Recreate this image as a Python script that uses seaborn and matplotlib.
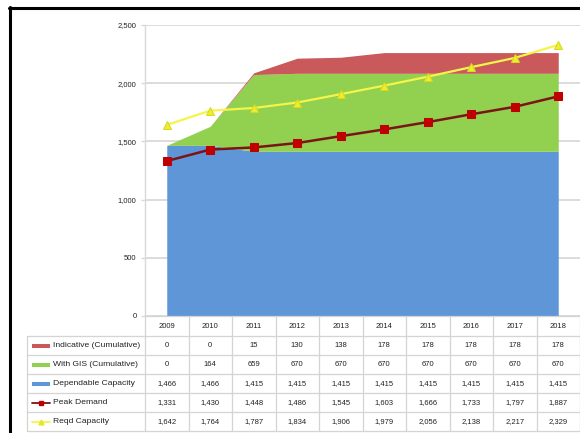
import numpy as np
import pandas as pd
import seaborn as sns
import matplotlib
matplotlib.use("Agg")
import matplotlib.pyplot as plt
from matplotlib.lines import Line2D
from matplotlib.patches import Rectangle

# ---- data ----
years = ["2009", "2010", "2011", "2012", "2013", "2014", "2015", "2016", "2017", "2018"]
indicative = [0, 0, 15, 130, 138, 178, 178, 178, 178, 178]
with_gis = [0, 164, 659, 670, 670, 670, 670, 670, 670, 670]
dependable = [1466, 1466, 1415, 1415, 1415, 1415, 1415, 1415, 1415, 1415]
peak_demand = [1331, 1430, 1448, 1486, 1545, 1603, 1666, 1733, 1797, 1887]
reqd_capacity = [1642, 1764, 1787, 1834, 1906, 1979, 2056, 2138, 2217, 2329]
yticks = [0, 500, 1000, 1500, 2000, 2500]
series_names = ["Indicative (Cumulative)", "With GIS (Cumulative)", "Dependable Capacity",
                "Peak Demand", "Reqd Capacity"]

sns.set_style("white")
plt.rcParams['font.family'] = ['Liberation Sans', 'DejaVu Sans']

C_BLUE = "#5f96d7"
C_GREEN = "#92d050"
C_RED = "#c9595b"
C_PEAK_LINE = "#7a1515"
C_PEAK_MK = "#c00000"
C_REQ = "#f4f44a"
C_GRID = "#d9d9d9"
C_TXT = "#222222"

W, H = 580, 433
fig = plt.figure(figsize=(W / 100, H / 100), dpi=100)

AX_L, AX_R, AX_T, AX_B = 145, 580, 25, 316
ax = fig.add_axes([AX_L / W, 1 - AX_B / H, (AX_R - AX_L) / W, (AX_B - AX_T) / H])

x = np.arange(len(years))
df = pd.DataFrame({"x": x, "peak": peak_demand, "req": reqd_capacity})

ax.stackplot(x, dependable, with_gis, indicative, colors=[C_BLUE, C_GREEN, C_RED],
             linewidth=0, zorder=2)
sns.lineplot(data=df, x="x", y="req", ax=ax, color=C_REQ, linewidth=1.6, marker="^",
             markersize=5.5, markerfacecolor="#eeee30", markeredgecolor="#d8d820", zorder=4)
sns.lineplot(data=df, x="x", y="peak", ax=ax, color=C_PEAK_LINE, linewidth=1.8, marker="s",
             markersize=5.5, markerfacecolor=C_PEAK_MK, markeredgecolor=C_PEAK_MK, zorder=5)

ax.set_xlim(-0.5, 9.5)
ax.set_ylim(0, 2500)
ax.set_yticks(yticks)
ax.set_yticklabels([f"{v:,}" for v in yticks], fontsize=5.5, color=C_TXT)
ax.set_xticks([])
ax.set_xlabel("")
ax.set_ylabel("")
ax.grid(axis="y", color=C_GRID, linewidth=1.3, zorder=0)
ax.set_axisbelow(True)
for s in ["top", "right", "bottom"]:
    ax.spines[s].set_visible(False)
ax.spines["left"].set_color(C_GRID)
ax.spines["left"].set_linewidth(1.0)
ax.tick_params(axis="y", length=3, width=1, color=C_GRID, pad=3, left=True)

# ---- data table ----
T_T, T_B = 316, 431
tax = fig.add_axes([AX_L / W, 1 - T_B / H, (AX_R - AX_L) / W, (T_B - T_T) / H])
tax.set_xlim(-0.5, 9.5)
tax.set_ylim(T_B, T_T)
tax.axis("off")

def px2x(px):
    return (px - AX_L) / ((AX_R - AX_L) / 10.0) - 0.5

rows = [316, 336, 355, 374, 393, 412, 431]
left_x = px2x(27)
right_x = 9.5
lc = "#d4d4d4"
lw = 0.9
tax.plot([-0.5, right_x], [rows[0], rows[0]], color=lc, lw=lw, clip_on=False)
for r in rows[1:]:
    tax.plot([left_x, right_x], [r, r], color=lc, lw=lw, clip_on=False)
for k in range(11):
    xv = -0.5 + k
    tax.plot([xv, xv], [rows[0], rows[-1]], color=lc, lw=lw, clip_on=False)
tax.plot([left_x, left_x], [rows[1], rows[-1]], color=lc, lw=lw, clip_on=False)

hc = (rows[0] + rows[1]) / 2
for i, yr in enumerate(years):
    tax.text(i, hc, yr, ha="center", va="center", fontsize=5.5, color=C_TXT)

table_vals = [indicative, with_gis, dependable, peak_demand, reqd_capacity]
key_x0, key_x1 = px2x(32), px2x(50)
for r, (name, vals) in enumerate(zip(series_names, table_vals)):
    yc = (rows[r + 1] + rows[r + 2]) / 2
    for i, v in enumerate(vals):
        tax.text(i, yc, f"{v:,}", ha="center", va="center", fontsize=5.5, color=C_TXT)
    tax.text(px2x(53), yc, name, ha="left", va="center", fontsize=6.1, color=C_TXT,
             clip_on=False)
    if r < 3:
        col = [C_RED, C_GREEN, C_BLUE][r]
        tax.add_patch(Rectangle((key_x0, yc - 2), key_x1 - key_x0, 4, facecolor=col,
                                edgecolor="none", clip_on=False))
    elif r == 3:
        tax.plot([key_x0, key_x1], [yc, yc], color=C_PEAK_LINE, lw=1.3, clip_on=False)
        tax.plot([(key_x0 + key_x1) / 2], [yc], marker="s", markersize=3.5, color=C_PEAK_MK,
                 clip_on=False)
    else:
        tax.plot([key_x0, key_x1], [yc, yc], color=C_REQ, lw=1.3, clip_on=False)
        tax.plot([(key_x0 + key_x1) / 2], [yc], marker="^", markersize=3.5, color="#e6e628",
                 clip_on=False)

# ---- outer frame (black lines top and left) ----
fig.add_artist(Line2D([9.5 / W, 9.5 / W], [0, 1 - 7 / H], color="black", lw=2.2,
                      transform=fig.transFigure))
fig.add_artist(Line2D([8.5 / W, 1], [1 - 8 / H, 1 - 8 / H], color="black", lw=2.2,
                      transform=fig.transFigure))

fig.savefig("out.png", dpi=100, facecolor="white")
